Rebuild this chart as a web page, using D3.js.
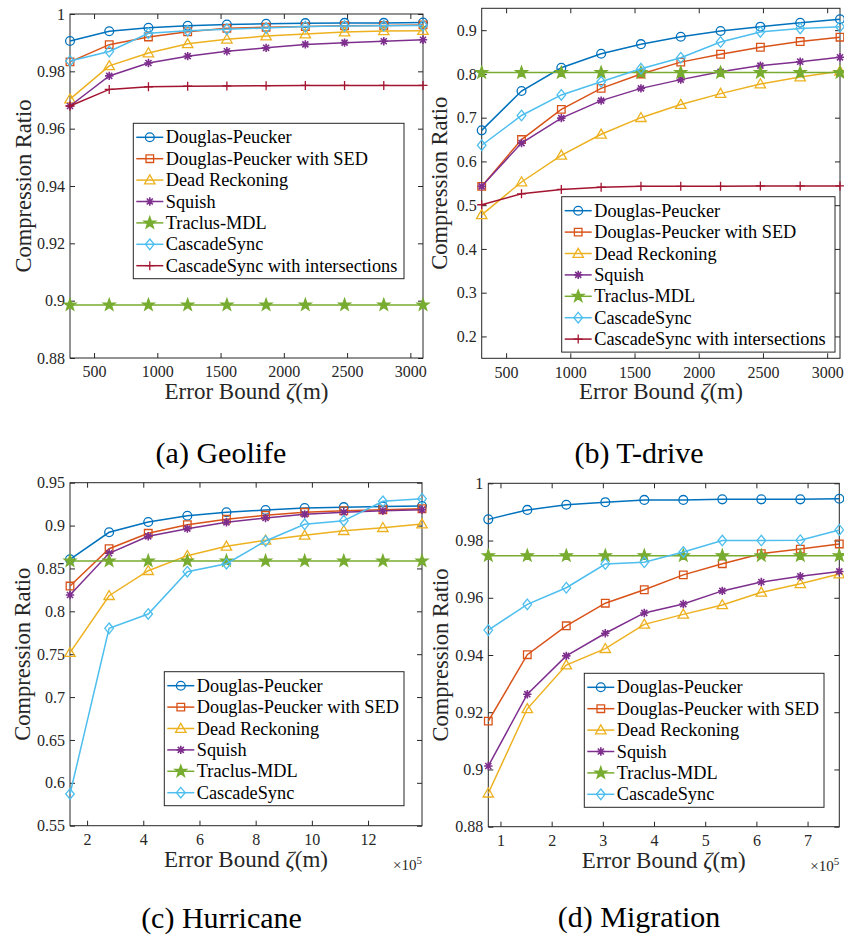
<!DOCTYPE html>
<html>
<head>
<meta charset="utf-8">
<script src="https://cdn.jsdelivr.net/npm/d3@7"></script>
<style>
  body { margin: 0; background: #fff; }
</style>
</head>
<body>
<div id="chart"></div>
<script>
'use strict';
// series names + MATLAB default colours
const seriesNames = ['Douglas-Peucker', 'Douglas-Peucker with SED', 'Dead Reckoning', 'Squish',
  'Traclus-MDL', 'CascadeSync', 'CascadeSync with intersections']
const seriesColors = ['#0072BD', '#D95319', '#EDB120', '#7E2F8E', '#77AC30', '#4DBEEE', '#A2142F']
const seriesMarkers = ['circle', 'square', 'triangle', 'asterisk', 'star', 'diamond', 'plus']

// (a) Geolife
const geoX = [310, 620, 930, 1240, 1550, 1860, 2170, 2480, 2790, 3100]
const geoDP = [0.9906, 0.9940, 0.9952, 0.9959, 0.9963, 0.9966, 0.9968, 0.9969, 0.9969, 0.9970]
const geoSED = [0.9833, 0.9893, 0.9920, 0.9938, 0.9950, 0.9954, 0.9956, 0.9959, 0.9960, 0.9962]
const geoDR = [0.9703, 0.9819, 0.9864, 0.9896, 0.9912, 0.9923, 0.9930, 0.9937, 0.9941, 0.9942]
const geoSquish = [0.9679, 0.9784, 0.9829, 0.9853, 0.9870, 0.9882, 0.9894, 0.9900, 0.9905, 0.9910]
const geoTraclus = [0.8985, 0.8985, 0.8985, 0.8985, 0.8985, 0.8985, 0.8985, 0.8985, 0.8985, 0.8985]
const geoCS = [0.9836, 0.9869, 0.9933, 0.9942, 0.9947, 0.9951, 0.9956, 0.9958, 0.9959, 0.9960]
const geoCSI = [0.9679, 0.9737, 0.9746, 0.9748, 0.9749, 0.9750, 0.9751, 0.9751, 0.9751, 0.9751]

// (b) T-drive
const tdX = [310, 620, 930, 1240, 1550, 1860, 2170, 2480, 2790, 3100]
const tdDP = [0.671, 0.761, 0.814, 0.846, 0.868, 0.885, 0.898, 0.908, 0.917, 0.925]
const tdSED = [0.543, 0.650, 0.719, 0.767, 0.800, 0.827, 0.845, 0.861, 0.874, 0.884]
const tdDR = [0.478, 0.553, 0.614, 0.662, 0.700, 0.730, 0.755, 0.777, 0.793, 0.806]
const tdSquish = [0.543, 0.642, 0.699, 0.739, 0.767, 0.787, 0.805, 0.819, 0.828, 0.838]
const tdTraclus = [0.803, 0.803, 0.803, 0.803, 0.803, 0.803, 0.803, 0.803, 0.803, 0.803]
const tdCS = [0.637, 0.705, 0.752, 0.782, 0.812, 0.837, 0.873, 0.896, 0.904, 0.908]
const tdCSI = [0.501, 0.526, 0.536, 0.541, 0.543, 0.543, 0.543, 0.544, 0.544, 0.544]

// (c) Hurricane, x in units of 1e5 m
const hurX = [1.392, 2.784, 4.176, 5.568, 6.96, 8.352, 9.744, 11.136, 12.528, 13.92]
const hurDP = [0.8607, 0.8922, 0.9042, 0.9115, 0.9155, 0.9182, 0.9205, 0.9215, 0.9222, 0.9228]
const hurSED = [0.8295, 0.8730, 0.8910, 0.9010, 0.9073, 0.9120, 0.9155, 0.9173, 0.9185, 0.9197]
const hurDR = [0.7518, 0.8182, 0.8474, 0.8649, 0.8758, 0.8828, 0.8887, 0.8940, 0.8975, 0.9018]
const hurSquish = [0.8190, 0.8677, 0.8875, 0.8964, 0.9038, 0.9088, 0.9131, 0.9155, 0.9173, 0.9185]
const hurTraclus = [0.8587, 0.8587, 0.8587, 0.8587, 0.8587, 0.8587, 0.8587, 0.8587, 0.8587, 0.8587]
const hurCS = [0.5870, 0.7802, 0.7969, 0.8462, 0.8555, 0.8820, 0.9015, 0.9057, 0.9283, 0.9313]

// (d) Migration, x in units of 1e5 m
const migX = [0.762, 1.524, 2.286, 3.048, 3.81, 4.572, 5.334, 6.096, 6.858, 7.62]
const migDP = [0.9874, 0.9907, 0.9925, 0.9934, 0.9942, 0.9942, 0.9944, 0.9944, 0.9944, 0.9946]
const migSED = [0.9169, 0.9401, 0.9502, 0.9581, 0.9628, 0.9680, 0.9719, 0.9754, 0.9770, 0.9788]
const migDR = [0.8917, 0.9212, 0.9365, 0.9422, 0.9507, 0.9542, 0.9575, 0.9619, 0.9649, 0.9683]
const migSquish = [0.9012, 0.9263, 0.9397, 0.9476, 0.9547, 0.9578, 0.9624, 0.9655, 0.9675, 0.9692]
const migTraclus = [0.9747, 0.9747, 0.9747, 0.9747, 0.9747, 0.9747, 0.9747, 0.9747, 0.9747, 0.9747]
const migCS = [0.9487, 0.9577, 0.9635, 0.9718, 0.9724, 0.9760, 0.9800, 0.9800, 0.9801, 0.9837]

// tick values
const geoXTicks = [500, 1000, 1500, 2000, 2500, 3000]
const geoYTicks = [0.88, 0.9, 0.92, 0.94, 0.96, 0.98, 1]
const tdYTicks = [0.2, 0.3, 0.4, 0.5, 0.6, 0.7, 0.8, 0.9]
const hurXTicks = [2, 4, 6, 8, 10, 12]
const hurYTicks = [0.55, 0.6, 0.65, 0.7, 0.75, 0.8, 0.85, 0.9, 0.95]
const migXTicks = [1, 2, 3, 4, 5, 6, 7]
const migYTicks = [0.88, 0.9, 0.92, 0.94, 0.96, 0.98, 1]

const panels = [
    { x: geoX, ys: [geoDP, geoSED, geoDR, geoSquish, geoTraclus, geoCS, geoCSI], xDomain: [310, 3100], yDomain: [0.88, 1],
      xTicks: geoXTicks, yTicks: geoYTicks, box: [70, 14, 423, 358], legend: [133.3, 123.3, 270.7], yLabelOff: 47,
      caption: '(a) Geolife', cap: [221, 452], exp: false },
    { x: tdX, ys: [tdDP, tdSED, tdDR, tdSquish, tdTraclus, tdCS, tdCSI], xDomain: [310, 3100], yDomain: [0.15, 0.95],
      xTicks: geoXTicks, yTicks: tdYTicks, box: [481.7, 8.3, 840, 358.3], legend: [561.7, 196.7, 273.3], yLabelOff: 43,
      caption: '(b) T-drive', cap: [639, 452], exp: false },
    { x: hurX, ys: [hurDP, hurSED, hurDR, hurSquish, hurTraclus, hurCS], xDomain: [1.392, 13.92], yDomain: [0.55, 0.95],
      xTicks: hurXTicks, yTicks: hurYTicks, box: [70, 482.7, 422, 825.7], legend: [164.3, 671.7, 239.7], yLabelOff: 48,
      caption: '(c) Hurricane', cap: [221.5, 917], exp: true },
    { x: migX, ys: [migDP, migSED, migDR, migSquish, migTraclus, migCS], xDomain: [0.762, 7.62], yDomain: [0.88, 1],
      xTicks: migXTicks, yTicks: migYTicks, box: [488.3, 483.3, 839.3, 826.7], legend: [584.3, 673.3, 239.7], yLabelOff: 48,
      caption: '(d) Migration', cap: [639, 916], exp: true }
]

const axisColor = '#262626'
const serif = 'Liberation Serif'
const rowH = 21.4

// marker path generator, centred at 0,0
function markerPath(type) {
    const p = d3.path()
    if (type === 'square') { p.rect(-3.8, -3.8, 7.6, 7.6) }
    else if (type === 'triangle') { p.moveTo(0, -5.2); p.lineTo(5.2, 3.8); p.lineTo(-5.2, 3.8); p.closePath() }
    else if (type === 'diamond') { p.moveTo(0, -5.3); p.lineTo(4.3, 0); p.lineTo(0, 5.3); p.lineTo(-4.3, 0); p.closePath() }
    else if (type === 'plus') { p.moveTo(-4.5, 0); p.lineTo(4.5, 0); p.moveTo(0, -4.5); p.lineTo(0, 4.5) }
    else if (type === 'asterisk') {
        const r = 4.2, d = r * 0.72
        p.moveTo(-r, 0); p.lineTo(r, 0); p.moveTo(0, -r); p.lineTo(0, r)
        p.moveTo(-d, -d); p.lineTo(d, d); p.moveTo(-d, d); p.lineTo(d, -d)
    }
    else if (type === 'star') {
        for (let i = 0; i < 10; i++) {
            const a = -Math.PI / 2 + i * Math.PI / 5
            const r = i % 2 === 0 ? 6.2 : 2.5
            if (i === 0) p.moveTo(r * Math.cos(a), r * Math.sin(a))
            else p.lineTo(r * Math.cos(a), r * Math.sin(a))
        }
        p.closePath()
    }
    return p.toString()
}

function drawMarker(g, type, color, cx, cy) {
    if (type === 'circle') {
        g.append('circle').attr('cx', cx).attr('cy', cy).attr('r', 4.4)
            .attr('fill', 'none').attr('stroke', color).attr('stroke-width', 1.3)
    } else {
        g.append('path').attr('d', markerPath(type))
            .attr('transform', `translate(${cx},${cy})`)
            .attr('fill', type === 'star' ? color : 'none')
            .attr('stroke', color).attr('stroke-width', type === 'asterisk' ? 1.6 : 1.3)
    }
}

const svg = d3.select('#chart').append('svg')
    .attr('width', 844)
    .attr('height', 937)

panels.forEach(function(pn) {
    const [l, t, r, b] = pn.box
    const x = d3.scaleLinear().domain(pn.xDomain).range([l, r])
    const y = d3.scaleLinear().domain(pn.yDomain).range([b, t])
    const g = svg.append('g')
    const fmt = d3.format('~g')

    g.append('rect') // white plot background
        .attr('x', l).attr('y', t).attr('width', r - l).attr('height', b - t)
        .attr('fill', '#fff')

    // ticks on all four sides, pointing inward
    const axes = g.append('g')
    axes.append('g').attr('transform', `translate(0,${b})`)
        .call(d3.axisBottom(x).tickValues(pn.xTicks).tickSize(-5).tickSizeOuter(0).tickPadding(8).tickFormat(fmt))
    axes.append('g').attr('transform', `translate(0,${t})`)
        .call(d3.axisTop(x).tickValues(pn.xTicks).tickSize(-5).tickSizeOuter(0).tickFormat(''))
    axes.append('g').attr('transform', `translate(${l},0)`)
        .call(d3.axisLeft(y).tickValues(pn.yTicks).tickSize(-5).tickSizeOuter(0).tickPadding(5).tickFormat(fmt))
    axes.append('g').attr('transform', `translate(${r},0)`)
        .call(d3.axisRight(y).tickValues(pn.yTicks).tickSize(-5).tickSizeOuter(0).tickFormat(''))
    axes.selectAll('.domain').remove()
    axes.selectAll('.tick line').attr('stroke', axisColor)
    axes.selectAll('.tick text')
        .attr('fill', axisColor)
        .attr('font-family', serif)
        .attr('font-size', 16)

    g.append('rect') // axes box
        .attr('x', l).attr('y', t).attr('width', r - l).attr('height', b - t)
        .attr('fill', 'none').attr('stroke', axisColor).attr('stroke-width', 1)

    // series lines then markers
    pn.ys.forEach(function(vals, i) {
        const pts = vals.map((v, j) => [pn.x[j], v])
        g.append('path').datum(pts)
            .attr('fill', 'none')
            .attr('stroke', seriesColors[i])
            .attr('stroke-width', 1.5)
            .attr('d', d3.line().x(d => x(d[0])).y(d => y(d[1])))
        const mg = g.append('g')
        pts.forEach(d => drawMarker(mg, seriesMarkers[i], seriesColors[i], x(d[0]), y(d[1])))
    })

    // legend
    const [lx, ly, lw] = pn.legend
    const n = pn.ys.length
    const lg = g.append('g')
    lg.append('rect')
        .attr('x', lx).attr('y', ly).attr('width', lw).attr('height', 14 + (n - 1) * rowH + 13)
        .attr('fill', '#fff').attr('stroke', axisColor).attr('stroke-width', 1)
    for (let i = 0; i < n; i++) {
        const cy = ly + 14 + i * rowH
        lg.append('line')
            .attr('x1', lx + 3).attr('x2', lx + 30).attr('y1', cy).attr('y2', cy)
            .attr('stroke', seriesColors[i]).attr('stroke-width', 1.5)
        drawMarker(lg, seriesMarkers[i], seriesColors[i], lx + 16.5, cy)
        lg.append('text')
            .attr('x', lx + 32.5).attr('y', cy)
            .attr('dy', '0.33em')
            .attr('font-family', serif)
            .attr('font-size', 18.3)
            .attr('fill', '#000')
            .text(seriesNames[i])
    }

    // axis labels
    const xl = g.append('text')
        .attr('x', (l + r) / 2).attr('y', b + 41)
        .attr('text-anchor', 'middle')
        .attr('font-family', serif)
        .attr('font-size', 23)
        .attr('fill', axisColor)
    xl.append('tspan').attr('font-family', serif).text('Error Bound ')
    xl.append('tspan').attr('font-family', serif).attr('font-style', 'italic').text('ζ')
    xl.append('tspan').attr('font-family', serif).text('(m)')
    g.append('text')
        .attr('transform', `translate(${l - pn.yLabelOff},${(t + b) / 2}) rotate(-90)`)
        .attr('text-anchor', 'middle')
        .attr('dy', '0.35em')
        .attr('font-family', serif)
        .attr('font-size', 22.5)
        .attr('fill', axisColor)
        .text('Compression Ratio')
    if (pn.exp) {
        const ex = g.append('text')
            .attr('x', r).attr('y', b + 44)
            .attr('text-anchor', 'end')
            .attr('font-family', serif)
            .attr('font-size', 15)
            .attr('fill', axisColor)
        ex.append('tspan').attr('font-family', serif).text('×10')
        ex.append('tspan').attr('font-family', serif).attr('font-size', 11).attr('dy', -6).text('5')
    }

    // subplot caption
    g.append('text')
        .attr('x', pn.cap[0]).attr('y', pn.cap[1])
        .attr('dy', '0.35em')
        .attr('text-anchor', 'middle')
        .attr('font-family', serif)
        .attr('font-size', 30)
        .attr('fill', '#000')
        .text(pn.caption)
})
</script>
</body>
</html>
